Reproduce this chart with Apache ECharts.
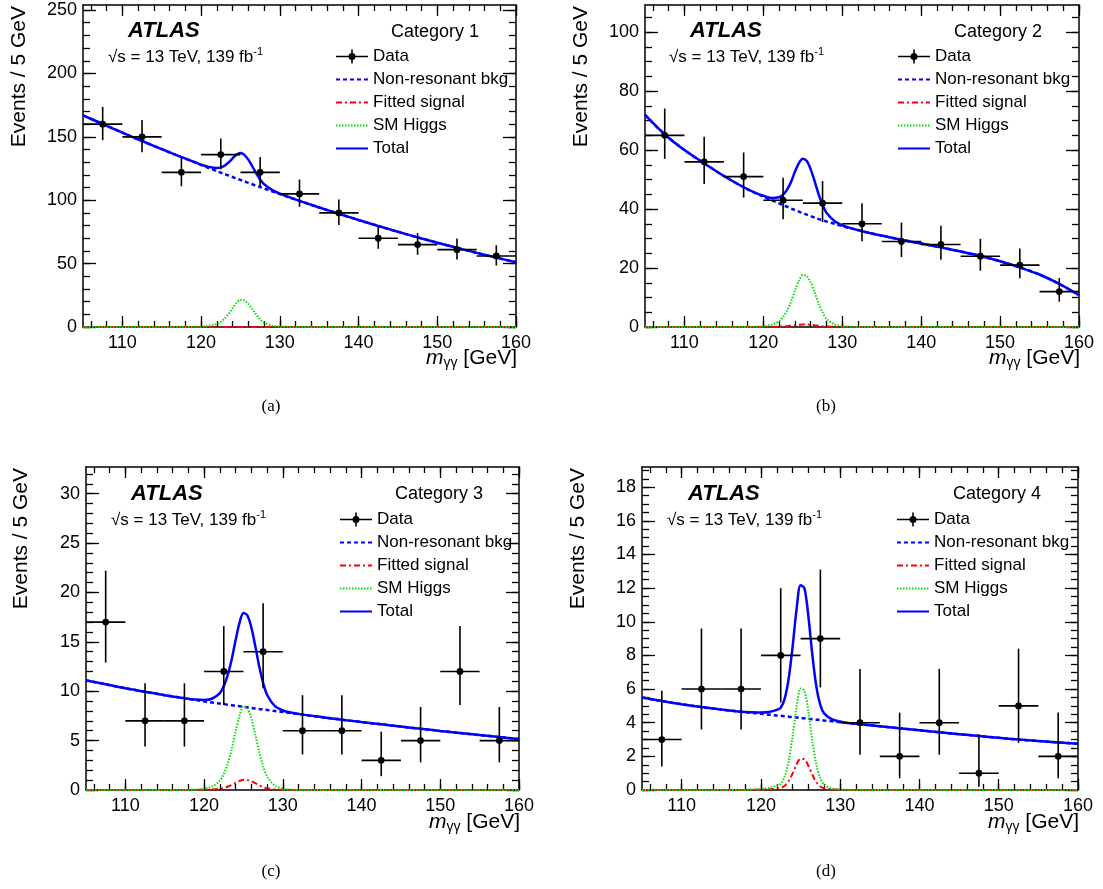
<!DOCTYPE html>
<html><head><meta charset="utf-8">
<script src="https://cdn.jsdelivr.net/npm/echarts@6/dist/echarts.min.js"></script>
<style>html,body{margin:0;padding:0;background:#fff}#c{width:1103px;height:889px}</style>
</head><body><div id="c"></div>
<script>
// ---------------- data ----------------
const binCenters = [107.5,112.5,117.5,122.5,127.5,132.5,137.5,142.5,147.5,152.5,157.5];
const binHalfWidth = 2.5;

const dataA = [160,150,122,136,122,105,90,70,65,61,56];
const lowA  = [147.4,137.8,111.0,124.4,111.0,94.8,80.5,61.7,57.0,53.2,48.5];
const highA = [173.6,163.3,134.1,148.7,134.1,116.3,100.5,79.4,74.1,69.8,64.5];

const dataB = [65,56,51,43,42,35,29,28,24,21,12];
const lowB  = [57.0,48.5,43.9,36.5,35.6,29.1,23.7,22.8,19.1,16.5,8.6];
const highB = [74.1,64.5,59.2,50.6,49.5,42.0,35.4,34.3,29.9,26.6,16.6];

const dataC = [17,7,7,12,14,6,6,3,5,12,5];
const lowC  = [12.9,4.4,4.4,8.6,10.3,3.6,3.6,1.4,2.8,8.6,2.8];
const highC = [22.2,10.8,10.8,16.6,18.9,9.6,9.6,5.9,8.4,16.6,8.4];

const dataD = [3,6,6,8,9,4,2,4,1,5,2];
const lowD  = [1.4,3.6,3.6,5.2,6.1,2.1,0.7,2.1,0.2,2.8,0.7];
const highD = [5.9,9.6,9.6,12.0,13.1,7.2,4.6,7.2,3.3,8.4,4.6];

const massGrid = [105,107.5,110,112.5,115,117.5,119,120,121,122,122.5,123,123.5,124,124.5,125,125.5,126,126.5,127,127.5,128,129,130,131,132.5,135,137.5,140,142.5,145,147.5,150,152.5,155,157.5,160];

const bkgA = [167.0,160.1,153.3,146.7,140.3,134.0,130.4,127.8,125.4,123.0,121.8,120.6,119.5,118.3,117.1,116.0,114.9,113.7,112.6,111.5,110.4,109.3,107.1,104.9,102.7,99.5,94.3,89.3,84.4,79.7,75.1,70.7,66.5,62.4,58.5,54.7,51.1];
const smhA = [0,0,0,0,0,0,0.1,0.3,0.9,2.4,4.1,6.7,10.3,14.8,18.9,21.3,20.9,18.3,14.2,9.7,6.0,3.4,1.1,0.3,0.1,0,0,0,0,0,0,0,0,0,0,0,0];
const sigA = [0,0,0,0,0,0,0,0,0,0,0,0,0,0,0,0,0,0,0,0,0,0,0,0,0,0,0,0,0,0,0,0,0,0,0,0,0];

const bkgB = [71.9,65.3,60.0,55.5,51.2,47.4,45.4,44.2,43.0,41.9,41.3,40.8,40.2,39.7,39.1,38.6,38.1,37.6,37.1,36.6,36.2,35.8,35.0,34.2,33.5,32.5,31.0,29.6,28.3,27.0,25.6,24.1,22.3,20.2,17.8,14.6,10.8];
const smhB = [0,0,0,0,0,0,0.1,0.3,0.7,2.0,3.4,5.5,8.5,12.3,15.7,17.6,17.3,15.1,11.7,8.0,5.0,2.8,0.9,0.3,0.1,0,0,0,0,0,0,0,0,0,0,0,0];
const sigB = [0,0,0,0,0,0,0,0,0.04,0.1,0.17,0.28,0.43,0.62,0.79,0.89,0.87,0.77,0.59,0.41,0.25,0.14,0.05,0.01,0,0,0,0,0,0,0,0,0,0,0,0,0];

const bkgC = [11.10,10.70,10.30,9.95,9.60,9.30,9.10,8.97,8.86,8.75,8.70,8.64,8.59,8.53,8.48,8.42,8.37,8.31,8.26,8.20,8.15,8.10,8.00,7.90,7.79,7.63,7.37,7.12,6.88,6.65,6.42,6.20,5.98,5.77,5.56,5.36,5.17];
const smhC = [0,0,0,0,0,0,0.04,0.13,0.34,0.94,1.62,2.65,4.10,5.90,7.52,8.46,8.29,7.27,5.64,3.85,2.39,1.37,0.43,0.13,0.04,0,0,0,0,0,0,0,0,0,0,0,0];
const sigC = [0,0,0,0,0,0,0.01,0.02,0.04,0.12,0.20,0.33,0.50,0.72,0.92,1.04,1.02,0.89,0.69,0.47,0.29,0.17,0.05,0.02,0.01,0,0,0,0,0,0,0,0,0,0,0,0];

const bkgD = [5.50,5.29,5.10,4.93,4.78,4.65,4.58,4.53,4.48,4.43,4.41,4.38,4.36,4.33,4.31,4.28,4.26,4.23,4.21,4.18,4.16,4.13,4.08,4.03,3.98,3.91,3.79,3.67,3.55,3.43,3.32,3.21,3.10,3.00,2.91,2.83,2.75];
const smhD = [0,0,0,0,0,0,0.03,0.06,0.12,0.25,0.37,0.80,1.72,3.20,4.92,6.03,5.90,4.61,2.89,1.48,0.68,0.31,0.09,0.03,0,0,0,0,0,0,0,0,0,0,0,0,0];
const sigD = [0,0,0,0,0,0,0.01,0.02,0.04,0.08,0.11,0.25,0.53,0.99,1.52,1.86,1.82,1.43,0.89,0.46,0.21,0.10,0.03,0.01,0,0,0,0,0,0,0,0,0,0,0,0,0];

const xTickLabels = [110,120,130,140,150,160];
const yTickLabelsA = [0,50,100,150,200,250];
const yTickLabelsB = [0,20,40,60,80,100];
const yTickLabelsC = [0,5,10,15,20,25,30];
const yTickLabelsD = [0,2,4,6,8,10,12,14,16,18];
const categoryNames = ['Category 1','Category 2','Category 3','Category 4'];
const panelLetters = ['(a)','(b)','(c)','(d)'];
const seriesNames = ['Data','Non-resonant bkg','Fitted signal','SM Higgs','Total'];

// ---------------- layout ----------------
const FONT = "'Liberation Sans', Arial, Helvetica, sans-serif";
function steps(a,b,s){const r=[];for(let v=a;v<=b+1e-9;v+=s) r.push(Math.round(v*1000)/1000);return r;}
const xMinorTicks = steps(106,160,2);

const panels = [
  {grid:{left:83,top:5,width:433,height:322}, yMax:254, yLab:yTickLabelsA, yMinorStep:10,
   data:dataA, low:lowA, high:highA, bkg:bkgA, smh:smhA, sig:sigA,
   legLeft:335, legTop:48, atlas:[128,31], sqrts:[108,57], cat:[479,32], ytitle:[19,6], xtitle:[517,358], letter:[271,407]},
  {grid:{left:645,top:5,width:434,height:322}, yMax:109.2, yLab:yTickLabelsB, yMinorStep:5,
   data:dataB, low:lowB, high:highB, bkg:bkgB, smh:smhB, sig:sigB,
   legLeft:897, legTop:48, atlas:[690,31], sqrts:[669,57], cat:[1042,32], ytitle:[581,6], xtitle:[1080,358], letter:[826,407]},
  {grid:{left:86,top:467,width:433,height:323}, yMax:32.7, yLab:yTickLabelsC, yMinorStep:1,
   data:dataC, low:lowC, high:highC, bkg:bkgC, smh:smhC, sig:sigC,
   legLeft:339, legTop:511, atlas:[131,494], sqrts:[111,520], cat:[483,494], ytitle:[21,468], xtitle:[520,822], letter:[271,872]},
  {grid:{left:642,top:467,width:436,height:323}, yMax:19.2, yLab:yTickLabelsD, yMinorStep:0.5,
   data:dataD, low:lowD, high:highD, bkg:bkgD, smh:smhD, sig:sigD,
   legLeft:896, legTop:511, atlas:[688,494], sqrts:[667,520], cat:[1041,494], ytitle:[578,468], xtitle:[1079,822], letter:[826,872]}
];

const blk = '#000';
function xAx(p, pos, major){
  return {gridIndex:p, type:'value', min:105, max:160, position:pos,
    axisLine:{show:major, onZero:false, lineStyle:{color:blk,width:1.5}},
    axisTick:{show:true, inside:true, length: major?11:6, customValues: major?xTickLabels:xMinorTicks, lineStyle:{color:blk,width:1.3}},
    axisLabel:{show: major && pos==='bottom', customValues:xTickLabels, color:blk, fontSize:18, fontFamily:FONT, margin:7},
    splitLine:{show:false}};
}
function yAx(p, pos, major, P){
  return {gridIndex:p, type:'value', min:0, max:P.yMax, position:pos,
    axisLine:{show:major, onZero:false, lineStyle:{color:blk,width:1.5}},
    axisTick:{show:true, inside:true, length: major?13:7, customValues: major?P.yLab:steps(0,P.yMax,P.yMinorStep), lineStyle:{color:blk,width:1.3}},
    axisLabel:{show: major && pos==='left', customValues:P.yLab, color:blk, fontSize:18, fontFamily:FONT, margin:6},
    splitLine:{show:false}};
}

function renderData(params, api){
  const x = api.value(0), y = api.value(1), lo = api.value(2), hi = api.value(3);
  const pL = api.coord([x-binHalfWidth, y]), pR = api.coord([x+binHalfWidth, y]);
  const pB = api.coord([x, lo]), pT = api.coord([x, hi]), c = api.coord([x, y]);
  const st = {stroke:blk, lineWidth:1.6};
  return {type:'group', children:[
    {type:'line', shape:{x1:pL[0],y1:pL[1],x2:pR[0],y2:pR[1]}, style:st},
    {type:'line', shape:{x1:pB[0],y1:pB[1],x2:pT[0],y2:pT[1]}, style:st},
    {type:'circle', shape:{cx:c[0],cy:c[1],r:3.4}, style:{fill:blk}}
  ]};
}

const grids=[], xAxes=[], yAxes=[], series=[], legends=[], graphics=[];
const dataIcon = 'path://M0,6.2H32V7.8H0Z M15.2,0H16.8V14H15.2Z M12.5,7A3.5,3.5 0 1 1 19.5,7A3.5,3.5 0 1 1 12.5,7Z';

panels.forEach((P,p)=>{
  grids.push(P.grid);
  xAxes.push(xAx(p,'bottom',true), xAx(p,'bottom',false), xAx(p,'top',true), xAx(p,'top',false));
  yAxes.push(yAx(p,'left',true,P), yAx(p,'left',false,P), yAx(p,'right',true,P), yAx(p,'right',false,P));
  const ax = {xAxisIndex:4*p, yAxisIndex:4*p};
  series.push(
    Object.assign({name:seriesNames[1], type:'line', symbol:'none', smooth:0.3, z:2, silent:true,
      data: massGrid.map((m,i)=>[m,P.bkg[i]]),
      itemStyle:{color:'#0000ff'}, lineStyle:{color:'#0000ff', width:2.5, type:[4,3]}}, ax),
    Object.assign({name:seriesNames[2], type:'line', symbol:'none', smooth:0.3, z:3, silent:true,
      data: massGrid.map((m,i)=>[m,P.sig[i]]),
      itemStyle:{color:'#ff0000'}, lineStyle:{color:'#ff0000', width:2, type:[6,3,2,3]}}, ax),
    Object.assign({name:seriesNames[3], type:'line', symbol:'none', smooth:0.3, z:3, silent:true,
      data: massGrid.map((m,i)=>[m,P.smh[i]]),
      itemStyle:{color:'#00e000'}, lineStyle:{color:'#00e000', width:2, type:[1.5,1.5]}}, ax),
    Object.assign({name:seriesNames[4], type:'line', symbol:'none', smooth:0.3, z:4, silent:true,
      data: massGrid.map((m,i)=>[m, P.bkg[i]+P.smh[i]+P.sig[i]]),
      itemStyle:{color:'#0000ff'}, lineStyle:{color:'#0000ff', width:2.5}}, ax),
    Object.assign({name:seriesNames[0], type:'custom', renderItem:renderData, z:5, silent:true,
      itemStyle:{color:blk}, encode:{x:0,y:1},
      data: binCenters.map((x,i)=>[x, P.data[i], P.low[i], P.high[i]])}, ax)
  );
  legends.push({orient:'vertical', left:P.legLeft, top:P.legTop, padding:0, itemWidth:32, itemHeight:14, itemGap:6,
    selectedMode:false, textStyle:{fontSize:17, fontFamily:FONT, color:blk},
    itemStyle:{opacity:0},
    data:[{name:seriesNames[0], icon:dataIcon, itemStyle:{opacity:1, color:blk, borderWidth:0}},
          seriesNames[1], seriesNames[2], seriesNames[3], seriesNames[4]]});

  graphics.push(
    {type:'text', x:P.atlas[0], y:P.atlas[1], style:{text:'ATLAS', font:"italic bold 22px "+FONT, fill:blk, align:'left', verticalAlign:'middle', textAlign:'left', textVerticalAlign:'middle'}},
    {type:'text', x:P.sqrts[0], y:P.sqrts[1], style:{text:'\u221As = 13 TeV, 139 fb{sup|-1}', rich:{sup:{fontSize:11, fontFamily:FONT, fill:blk, padding:[0,0,10,0]}}, font:"17px "+FONT, fill:blk, align:'left', verticalAlign:'middle', textAlign:'left', textVerticalAlign:'middle'}},
    {type:'text', x:P.cat[0], y:P.cat[1], style:{text:categoryNames[p], font:"18px "+FONT, fill:blk, align:'right', verticalAlign:'middle', textAlign:'right', textVerticalAlign:'middle'}},
    {type:'text', x:P.ytitle[0], y:P.ytitle[1], rotation:Math.PI/2, style:{text:'Events / 5 GeV', font:"21px "+FONT, fill:blk, align:'right', verticalAlign:'middle', textAlign:'right', textVerticalAlign:'middle'}},
    {type:'text', x:P.xtitle[0], y:P.xtitle[1], style:{text:'{m|m}{s|\u03B3\u03B3}{n| [GeV]}', rich:{
        m:{fontSize:21, fontStyle:'italic', fontFamily:FONT, fill:blk},
        s:{fontSize:14, fontFamily:FONT, fill:blk, padding:[10,0,0,0]},
        n:{fontSize:21, fontFamily:FONT, fill:blk}}, align:'right', verticalAlign:'middle', textAlign:'right', textVerticalAlign:'middle'}},
    {type:'text', x:P.letter[0], y:P.letter[1], style:{text:panelLetters[p], font:"17px 'Liberation Serif', 'Times New Roman', serif", fill:blk, align:'center', verticalAlign:'middle', textAlign:'center', textVerticalAlign:'middle'}}
  );
});

const chart = echarts.init(document.getElementById('c'), null, {renderer:'canvas'});
chart.setOption({animation:false, backgroundColor:'#fff', grid:grids, xAxis:xAxes, yAxis:yAxes, series:series, legend:legends, graphic:{elements:graphics}});
</script></body></html>
